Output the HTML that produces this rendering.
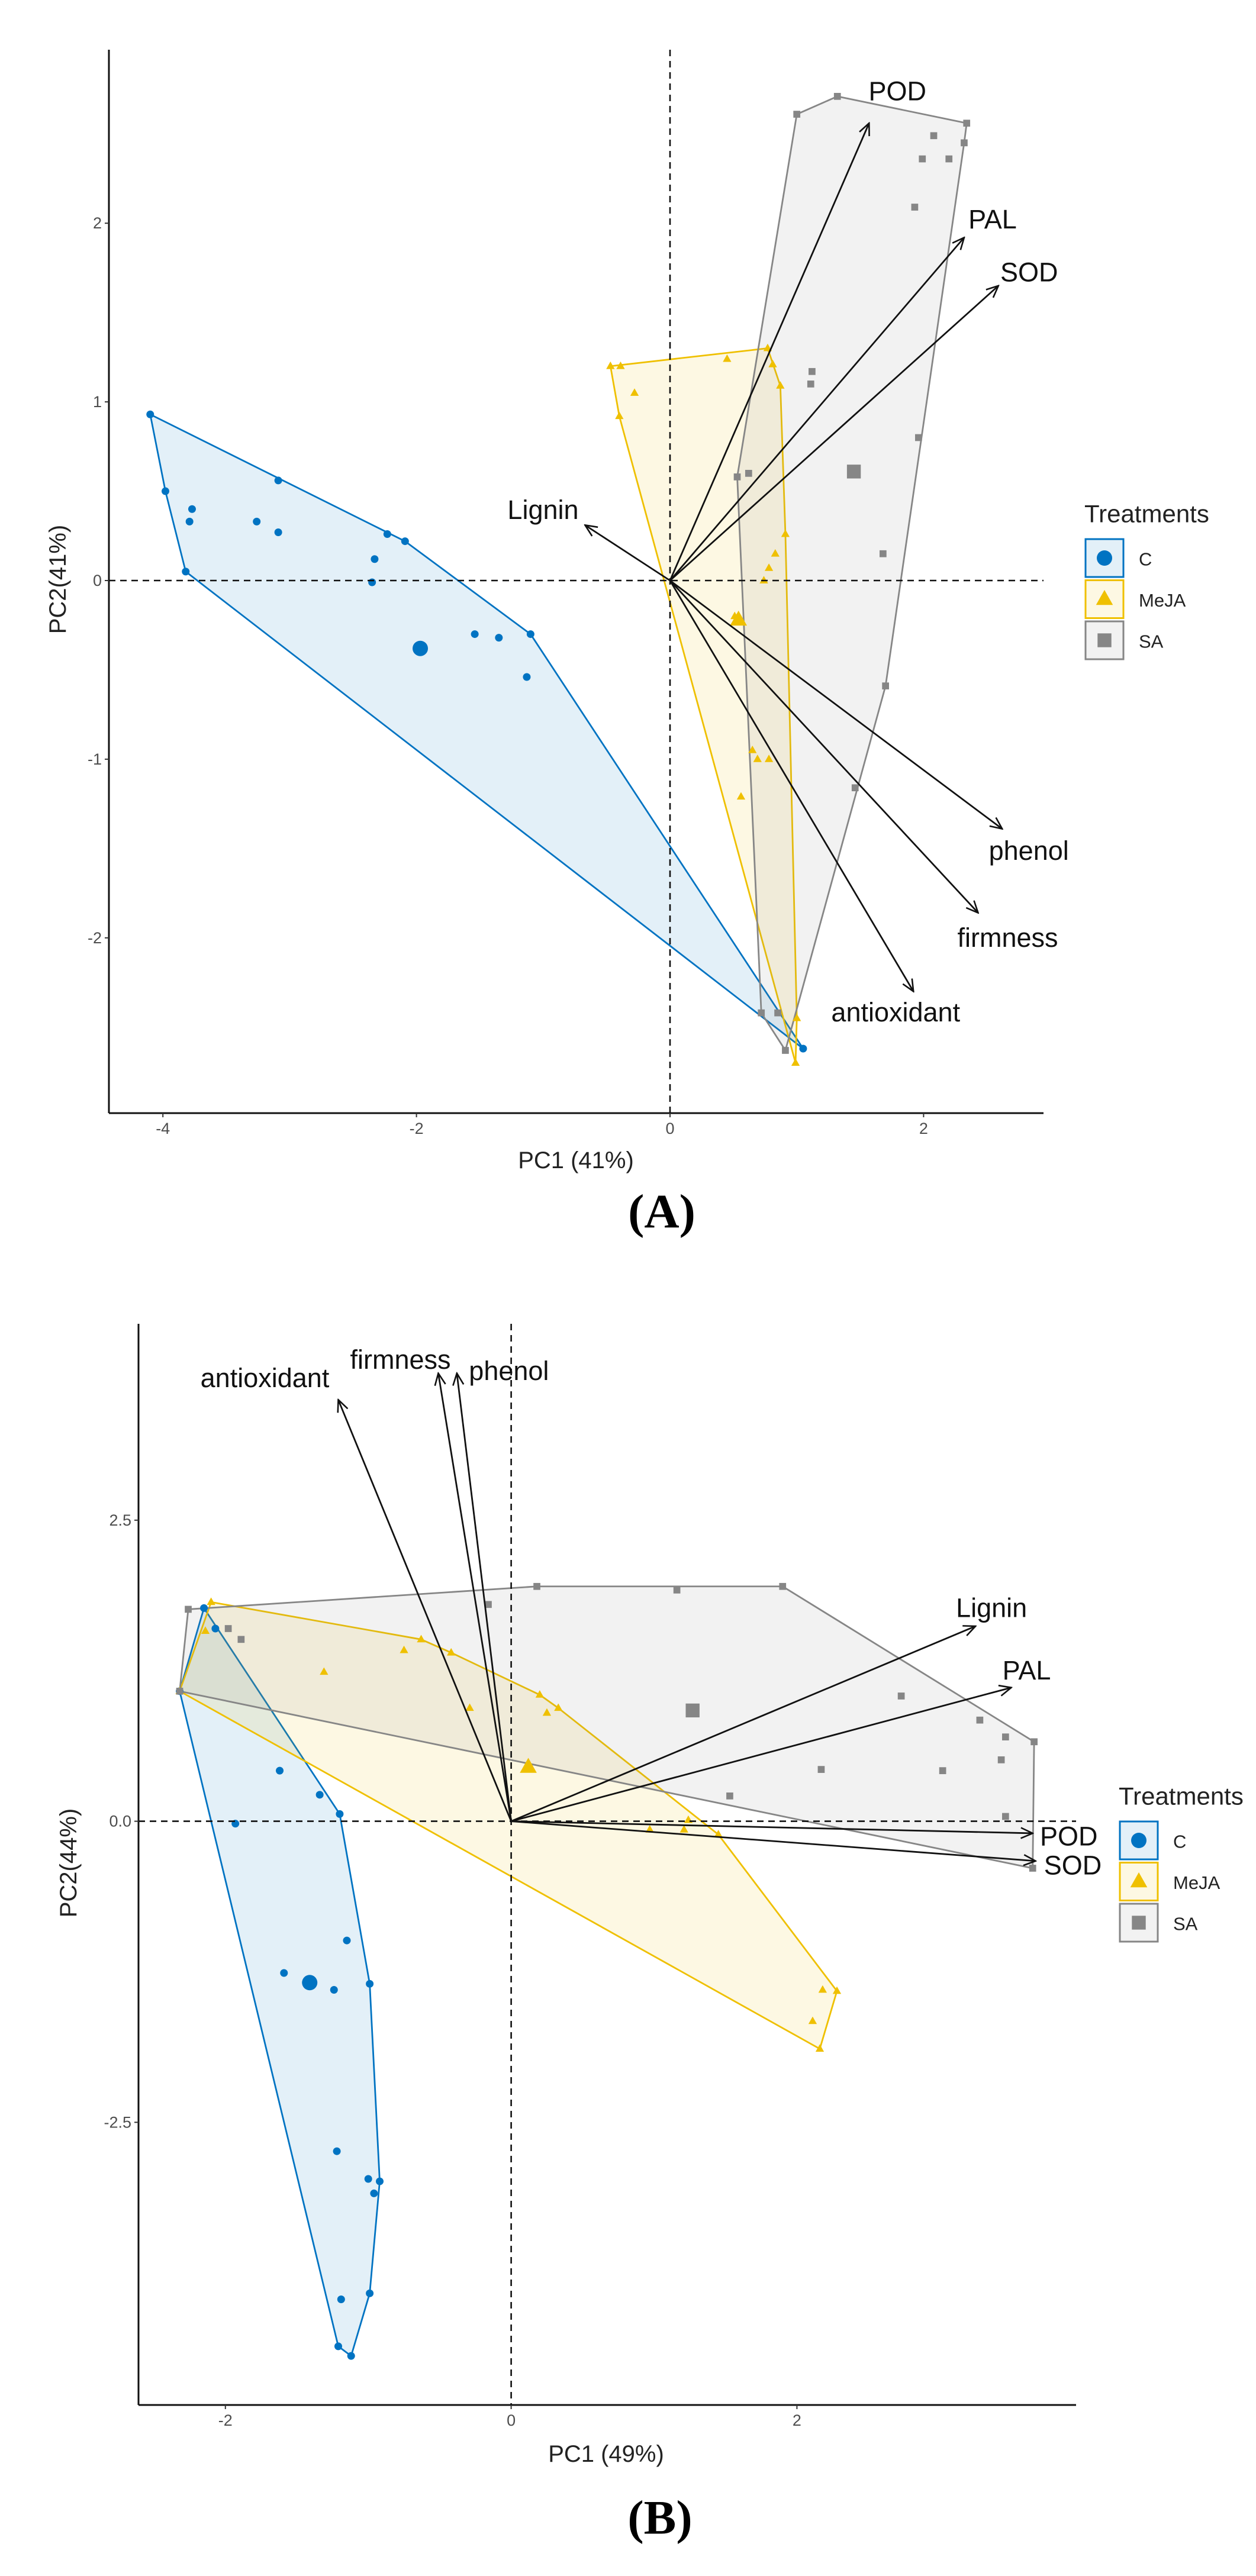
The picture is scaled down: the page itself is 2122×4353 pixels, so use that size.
<!DOCTYPE html>
<html><head><meta charset="utf-8">
<style>
html,body{margin:0;padding:0;background:#fff;}
svg{display:block;font-family:"Liberation Sans",sans-serif;}
</style></head>
<body>
<svg id="root" width="2122" height="4353" viewBox="0 0 2122 4353" xmlns="http://www.w3.org/2000/svg">
<defs>
<marker id="ah" viewBox="0 0 24 24" refX="22" refY="12" markerWidth="24" markerHeight="24" markerUnits="userSpaceOnUse" orient="auto"><path d="M2,3 L22,12 L2,21" fill="none" stroke="#111" stroke-width="2.6"/></marker>
</defs>
</svg>
<script>
// ===== Panel A data =====
const aC_x=[-4.10,-3.98,-3.77,-3.79,-3.82,-3.26,-3.09,-3.09,-2.33,-2.35,-2.23,-2.09,-1.54,-1.35,-1.10,-1.13,1.05];
const aC_y=[0.93,0.50,0.40,0.33,0.05,0.33,0.56,0.27,0.12,-0.01,0.26,0.22,-0.30,-0.32,-0.30,-0.54,-2.62];
const aC_cent=[-1.97,-0.38];
const aM_x=[-0.47,-0.39,0.45,0.77,0.81,0.87,-0.28,-0.40,0.91,0.83,0.78,0.74,0.65,0.69,0.78,0.56,1.00,0.99,0.51];
const aM_y=[1.20,1.20,1.24,1.30,1.21,1.09,1.05,0.92,0.26,0.15,0.07,0.00,-0.95,-1.00,-1.00,-1.21,-2.45,-2.70,-0.20];
const aM_cent=[0.54,-0.22];
const aS_x=[1.00,1.32,2.34,2.32,2.08,1.99,2.20,1.93,1.11,1.12,1.96,0.53,0.62,1.68,1.70,1.46,0.72,0.85,0.91];
const aS_y=[2.61,2.71,2.56,2.45,2.49,2.36,2.36,2.09,1.10,1.17,0.80,0.58,0.60,0.15,-0.59,-1.16,-2.42,-2.42,-2.63];
const aS_cent=[1.45,0.61];
const aVarNames=["POD","PAL","SOD","Lignin","phenol","firmness","antioxidant"];
const aVar_x=[1.57,2.32,2.59,-0.67,2.62,2.43,1.92];
const aVar_y=[2.56,1.92,1.65,0.31,-1.39,-1.86,-2.30];
const aXTicks=[-4,-2,0,2];
const aYTicks=[-2,-1,0,1,2];

// ===== Panel B data =====
const bC_x=[-2.15,-2.07,-1.62,-1.34,-1.20,-1.93,-1.15,-1.59,-1.24,-0.99,-1.22,-1.00,-0.92,-0.96,-1.19,-0.99,-1.21,-1.12,-2.32];
const bC_y=[1.77,1.60,0.42,0.22,0.06,-0.02,-0.99,-1.26,-1.40,-1.35,-2.74,-2.97,-2.99,-3.09,-3.97,-3.92,-4.36,-4.44,1.08];
const bC_cent=[-1.41,-1.34];
const bM_x=[-2.10,-2.14,-2.32,-1.31,-0.75,-0.63,-0.42,-0.29,0.20,0.25,0.33,0.97,1.21,1.24,1.45,2.18,2.28,2.11,2.16];
const bM_y=[1.82,1.58,1.08,1.24,1.42,1.51,1.40,0.94,1.05,0.90,0.94,-0.07,-0.07,0.01,-0.11,-1.40,-1.41,-1.66,-1.89];
const bM_cent=[0.12,0.45];
const bS_x=[-2.26,-1.98,-1.89,-2.32,-0.16,0.18,1.16,1.90,2.73,3.28,3.46,3.66,3.43,2.17,3.02,1.53,3.46,3.65];
const bS_y=[1.76,1.60,1.51,1.08,1.80,1.95,1.92,1.95,1.04,0.84,0.70,0.66,0.51,0.43,0.42,0.21,0.04,-0.39];
const bS_cent=[1.27,0.92];
const bVarNames=["antioxidant","firmness","phenol","Lignin","PAL","POD","SOD"];
const bVar_x=[-1.21,-0.51,-0.38,3.25,3.50,3.65,3.67];
const bVar_y=[3.50,3.72,3.72,1.62,1.11,-0.10,-0.33];
const bXTicks=[-2,0,2];
const bYTicks=[-2.5,0,2.5];
const bYTickLabels=["-2.5","0.0","2.5"];

const NS="http://www.w3.org/2000/svg";
const root=document.getElementById('root');
function mk(tag,attrs,parent){const e=document.createElementNS(NS,tag);for(const k in attrs)e.setAttribute(k,attrs[k]);(parent||root).appendChild(e);return e;}
function hull(pts){
  pts=pts.slice().sort((a,b)=>a[0]-b[0]||a[1]-b[1]);
  const cr=(o,a,b)=>(a[0]-o[0])*(b[1]-o[1])-(a[1]-o[1])*(b[0]-o[0]);
  const lo=[],up=[];
  for(const p of pts){while(lo.length>=2&&cr(lo[lo.length-2],lo[lo.length-1],p)<=0)lo.pop();lo.push(p);}
  for(let i=pts.length-1;i>=0;i--){const p=pts[i];while(up.length>=2&&cr(up[up.length-2],up[up.length-1],p)<=0)up.pop();up.push(p);}
  up.pop();lo.pop();return lo.concat(up);
}
const COL={C:"#0073C2",M:"#EFC000",S:"#868686"};

function drawPanel(P){
  const g=mk('g',{});
  
  
  const sx=x=>P.x0+x*P.ux, sy=y=>P.y0-y*P.uy;
  const groups=[["C",P.C_x,P.C_y,P.C_cent,"group-c"],["M",P.M_x,P.M_y,P.M_cent,"group-meja"],["S",P.S_x,P.S_y,P.S_cent,"group-sa"]];
  for(const [k,xs,ys,,nm] of groups){
    const pts=xs.map((x,i)=>[sx(x),sy(ys[i])]);
    const h=hull(pts);
    const poly=mk('polygon',{points:h.map(p=>p.join(',')).join(' '),fill:COL[k],'fill-opacity':0.11,stroke:COL[k],'stroke-width':2.8,'stroke-linejoin':'round'},g);
    
    
  }
  function sym(k,cx,cy,r,parent){
    let e;
    if(k==="C") e=mk('circle',{cx:cx,cy:cy,r:r,fill:COL.C},parent);
    else if(k==="M") e=mk('polygon',{points:`${cx},${cy-r*1.2} ${cx+r*1.1},${cy+r*0.75} ${cx-r*1.1},${cy+r*0.75}`,fill:COL.M},parent);
    else e=mk('rect',{x:cx-r*0.9,y:cy-r*0.9,width:r*1.8,height:r*1.8,fill:COL.S},parent);
    return e;
  }
  for(const [k,xs,ys,cent,nm] of groups){
    xs.forEach((x,i)=>{const e=sym(k,sx(x),sy(ys[i]),6.5,g);
      
      });
    const c=sym(k,sx(cent[0]),sy(cent[1]),13,g);
    
    
  }
  const hl=mk('line',{x1:P.ax0,x2:P.hEnd,y1:sy(0),y2:sy(0),stroke:'#111','stroke-width':2.6,'stroke-dasharray':'11,8'},g);
  
  
  const vl=mk('line',{x1:sx(0),x2:sx(0),y1:P.ay0,y2:P.ay1,stroke:'#111','stroke-width':2.6,'stroke-dasharray':'11,8'},g);
  
  
  P.names.forEach((n,i)=>{
    const a=mk('line',{x1:sx(0),y1:sy(0),x2:sx(P.vx[i]),y2:sy(P.vy[i]),stroke:'#111','stroke-width':2.8,'marker-end':'url(#ah)'},g);
    
    
    const off=P.labOff[n];
    const t=mk('text',{x:sx(P.vx[i])+off[0],y:sy(P.vy[i])+off[1],'text-anchor':'middle','dominant-baseline':'central','font-size':45,fill:'#111'},g);
    t.textContent=n;
    
    
  });
  const ya=mk('line',{x1:P.ax0,x2:P.ax0,y1:P.ay0,y2:P.ay1,stroke:'#111','stroke-width':3},g);
  
  
  const xa=mk('line',{x1:P.ax0,x2:P.ax1,y1:P.ay1,y2:P.ay1,stroke:'#111','stroke-width':3},g);
  
  
  P.xt.forEach(v=>{
    mk('line',{x1:sx(v),x2:sx(v),y1:P.ay1,y2:P.ay1+7,stroke:'#333','stroke-width':2},g);
    const t=mk('text',{x:sx(v),y:P.ay1+35,'text-anchor':'middle','font-size':27,fill:'#4d4d4d'},g);
    t.textContent=String(v);
    
    
  });
  P.yt.forEach((v,i)=>{
    mk('line',{x1:P.ax0-7,x2:P.ax0,y1:sy(v),y2:sy(v),stroke:'#333','stroke-width':2},g);
    const t=mk('text',{x:P.ax0-12,y:sy(v),'text-anchor':'end','dominant-baseline':'central','font-size':27,fill:'#4d4d4d'},g);
    t.textContent=P.ytl?P.ytl[i]:String(v);
    
    
  });
  const xt=mk('text',{x:P.xTitle[0],y:P.xTitle[1],'text-anchor':'middle','dominant-baseline':'central','font-size':40,fill:'#222'},g);
  xt.textContent=P.xLab;
  
  
  const yt=mk('text',{x:P.yTitle[0],y:P.yTitle[1],'text-anchor':'middle','dominant-baseline':'central','font-size':40,fill:'#222',transform:`rotate(-90 ${P.yTitle[0]} ${P.yTitle[1]})`},g);
  yt.textContent=P.yLab;
  
  
  const lg=mk('g',{},g);
  
  
  const lt=mk('text',{x:P.leg[0],y:P.leg[1],'dominant-baseline':'central','font-size':42,fill:'#222'},lg);
  lt.textContent="Treatments";
  
  
  [["C","C"],["M","MeJA"],["S","SA"]].forEach(([k,lab],i)=>{
    const by=P.leg[1]+43+i*69.5;
    const e=mk('g',{},lg);
    
    
    mk('rect',{x:P.leg[0]+2,y:by,width:64,height:64,fill:COL[k],'fill-opacity':0.11,stroke:COL[k],'stroke-width':3},e);
    sym(k,P.leg[0]+34,by+32,13,e);
    const t=mk('text',{x:P.leg[0]+92,y:by+34,'dominant-baseline':'central','font-size':31,fill:'#222'},e);
    t.textContent=lab;
  });
  const pl=mk('text',{x:P.plab[0],y:P.plab[1],'text-anchor':'middle','dominant-baseline':'central','font-size':82,'font-weight':'bold','font-family':'"Liberation Serif",serif',fill:'#000'},g);
  pl.textContent=P.plabText;
  
  
}

drawPanel({name:'panel-a',x0:1132,y0:981,ux:214.2,uy:301.9,ax0:184,ax1:1763,ay0:84,ay1:1881,hEnd:1763,
  C_x:aC_x,C_y:aC_y,C_cent:aC_cent,M_x:aM_x,M_y:aM_y,M_cent:aM_cent,S_x:aS_x,S_y:aS_y,S_cent:aS_cent,
  names:aVarNames,vx:aVar_x,vy:aVar_y,
  labOff:{POD:[48,-54],PAL:[48,-31],SOD:[52,-23],Lignin:[-71,-26],phenol:[45,37],firmness:[50,42],antioxidant:[-30,35]},
  xt:aXTicks,yt:aYTicks,xLab:"PC1 (41%)",yLab:"PC2(41%)",xTitle:[973,1961],yTitle:[98,979],
  leg:[1832,868],plab:[1118,2047],plabText:"(A)"});

drawPanel({name:'panel-b',x0:863.6,y0:3077.6,ux:241.4,uy:203.5,ax0:234,ax1:1818,ay0:2237,ay1:4064,hEnd:1818,
  C_x:bC_x,C_y:bC_y,C_cent:bC_cent,M_x:bM_x,M_y:bM_y,M_cent:bM_cent,S_x:bS_x,S_y:bS_y,S_cent:bS_cent,
  names:bVarNames,vx:bVar_x,vy:bVar_y,
  labOff:{antioxidant:[-124,-37],firmness:[-64,-23],phenol:[88,-4],Lignin:[27,-31],PAL:[26,-29],POD:[61,5],SOD:[63,7]},
  xt:bXTicks,yt:bYTicks,ytl:bYTickLabels,xLab:"PC1 (49%)",yLab:"PC2(44%)",xTitle:[1024,4147],yTitle:[116,3148],
  leg:[1890,3035],plab:[1115,4254],plabText:"(B)"});
</script>
</body></html>
